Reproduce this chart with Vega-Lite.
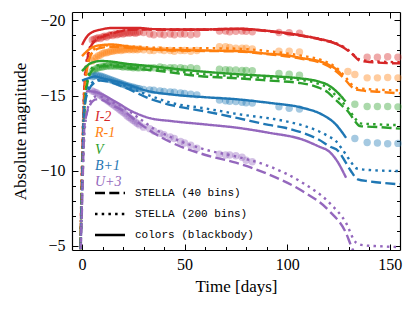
{
"$schema":"https://vega.github.io/schema/vega-lite/v6.json",
"width":328,"height":238,
"autosize":{"type":"none"},
"padding":{"left":72,"top":12,"right":15,"bottom":60},
"config":{"view":{"stroke":null},"axis":{"grid":false,"labelFont":"Liberation Serif","labelFontSize":16,"labelColor":"black","titleFont":"Liberation Serif","titleFontSize":17,"titleFontWeight":"normal","titleColor":"black","tickColor":"black","tickWidth":1,"domainColor":"black","domainWidth":1.2}},
"datasets":{
"obs":[
{"b":"I-2","t":5,"y":-18.7},{"b":"I-2","t":6,"y":-18.75},{"b":"I-2","t":7,"y":-18.8},{"b":"I-2","t":8,"y":-18.85},{"b":"I-2","t":9,"y":-18.8},{"b":"I-2","t":10,"y":-18.9},{"b":"I-2","t":11,"y":-18.95},{"b":"I-2","t":12,"y":-18.9},{"b":"I-2","t":13,"y":-19.0},{"b":"I-2","t":14,"y":-19.05},{"b":"I-2","t":15,"y":-19.0},{"b":"I-2","t":16,"y":-19.1},{"b":"I-2","t":17,"y":-19.05},{"b":"I-2","t":18,"y":-19.1},{"b":"I-2","t":19,"y":-19.15},{"b":"I-2","t":20,"y":-19.1},{"b":"I-2","t":21,"y":-19.15},{"b":"I-2","t":22,"y":-19.2},{"b":"I-2","t":23,"y":-19.15},{"b":"I-2","t":24,"y":-19.2},{"b":"I-2","t":25,"y":-19.2},{"b":"I-2","t":26,"y":-19.15},{"b":"I-2","t":27,"y":-19.2},{"b":"I-2","t":28,"y":-19.25},{"b":"I-2","t":30,"y":-19.2},{"b":"I-2","t":33,"y":-19.1},{"b":"I-2","t":35,"y":-19.05},{"b":"I-2","t":38,"y":-19.1},{"b":"I-2","t":40,"y":-19.05},{"b":"I-2","t":43,"y":-19.1},{"b":"I-2","t":45,"y":-19.05},{"b":"I-2","t":48,"y":-19.1},{"b":"I-2","t":50,"y":-19.1},{"b":"I-2","t":53,"y":-19.05},{"b":"I-2","t":56,"y":-19.1},{"b":"I-2","t":67,"y":-19.3},{"b":"I-2","t":70,"y":-19.3},{"b":"I-2","t":72,"y":-19.25},{"b":"I-2","t":75,"y":-19.28},{"b":"I-2","t":78,"y":-19.3},{"b":"I-2","t":80,"y":-19.28},{"b":"I-2","t":83,"y":-19.25},{"b":"I-2","t":96,"y":-19.2},{"b":"I-2","t":101,"y":-19.18},{"b":"I-2","t":106,"y":-19.15},{"b":"I-2","t":139,"y":-17.55},{"b":"I-2","t":144,"y":-17.55},{"b":"I-2","t":149,"y":-17.58},{"b":"I-2","t":154,"y":-17.55},
{"b":"R-1","t":5,"y":-17.3},{"b":"R-1","t":6,"y":-17.45},{"b":"R-1","t":7,"y":-17.55},{"b":"R-1","t":8,"y":-17.65},{"b":"R-1","t":9,"y":-17.7},{"b":"R-1","t":10,"y":-17.8},{"b":"R-1","t":11,"y":-17.85},{"b":"R-1","t":12,"y":-17.85},{"b":"R-1","t":13,"y":-17.9},{"b":"R-1","t":14,"y":-17.95},{"b":"R-1","t":15,"y":-17.95},{"b":"R-1","t":16,"y":-18.0},{"b":"R-1","t":17,"y":-18.0},{"b":"R-1","t":18,"y":-18.05},{"b":"R-1","t":19,"y":-18.0},{"b":"R-1","t":20,"y":-18.05},{"b":"R-1","t":21,"y":-18.05},{"b":"R-1","t":22,"y":-18.1},{"b":"R-1","t":23,"y":-18.05},{"b":"R-1","t":24,"y":-18.1},{"b":"R-1","t":25,"y":-18.05},{"b":"R-1","t":26,"y":-18.1},{"b":"R-1","t":27,"y":-18.05},{"b":"R-1","t":28,"y":-18.1},{"b":"R-1","t":30,"y":-18.05},{"b":"R-1","t":33,"y":-18.0},{"b":"R-1","t":35,"y":-18.0},{"b":"R-1","t":38,"y":-18.05},{"b":"R-1","t":40,"y":-18.0},{"b":"R-1","t":43,"y":-18.0},{"b":"R-1","t":45,"y":-17.95},{"b":"R-1","t":48,"y":-18.0},{"b":"R-1","t":50,"y":-18.0},{"b":"R-1","t":53,"y":-17.95},{"b":"R-1","t":56,"y":-18.0},{"b":"R-1","t":67,"y":-18.25},{"b":"R-1","t":70,"y":-18.25},{"b":"R-1","t":72,"y":-18.2},{"b":"R-1","t":75,"y":-18.15},{"b":"R-1","t":78,"y":-18.15},{"b":"R-1","t":80,"y":-18.15},{"b":"R-1","t":83,"y":-18.1},{"b":"R-1","t":96,"y":-17.95},{"b":"R-1","t":101,"y":-17.95},{"b":"R-1","t":106,"y":-17.9},{"b":"R-1","t":129.6,"y":-16.6},{"b":"R-1","t":133,"y":-16.4},{"b":"R-1","t":139,"y":-16.18},{"b":"R-1","t":144,"y":-16.18},{"b":"R-1","t":149,"y":-16.2},{"b":"R-1","t":154,"y":-16.18},
{"b":"V","t":5,"y":-16.6},{"b":"V","t":6,"y":-16.7},{"b":"V","t":7,"y":-16.8},{"b":"V","t":8,"y":-16.85},{"b":"V","t":9,"y":-16.9},{"b":"V","t":10,"y":-16.9},{"b":"V","t":11,"y":-16.95},{"b":"V","t":12,"y":-16.95},{"b":"V","t":13,"y":-17.0},{"b":"V","t":14,"y":-16.95},{"b":"V","t":15,"y":-17.0},{"b":"V","t":16,"y":-16.95},{"b":"V","t":17,"y":-17.0},{"b":"V","t":18,"y":-16.95},{"b":"V","t":19,"y":-16.95},{"b":"V","t":20,"y":-16.9},{"b":"V","t":21,"y":-16.95},{"b":"V","t":22,"y":-16.9},{"b":"V","t":23,"y":-16.9},{"b":"V","t":24,"y":-16.9},{"b":"V","t":25,"y":-16.85},{"b":"V","t":26,"y":-16.9},{"b":"V","t":27,"y":-16.85},{"b":"V","t":28,"y":-16.85},{"b":"V","t":30,"y":-16.85},{"b":"V","t":33,"y":-16.85},{"b":"V","t":35,"y":-16.85},{"b":"V","t":38,"y":-16.9},{"b":"V","t":40,"y":-16.85},{"b":"V","t":43,"y":-16.85},{"b":"V","t":45,"y":-16.85},{"b":"V","t":48,"y":-16.85},{"b":"V","t":50,"y":-16.8},{"b":"V","t":53,"y":-16.85},{"b":"V","t":56,"y":-16.8},{"b":"V","t":67,"y":-16.75},{"b":"V","t":70,"y":-16.72},{"b":"V","t":72,"y":-16.7},{"b":"V","t":75,"y":-16.7},{"b":"V","t":78,"y":-16.68},{"b":"V","t":80,"y":-16.68},{"b":"V","t":83,"y":-16.65},{"b":"V","t":96,"y":-16.48},{"b":"V","t":101,"y":-16.42},{"b":"V","t":106,"y":-16.36},{"b":"V","t":133,"y":-14.42},{"b":"V","t":139,"y":-14.28},{"b":"V","t":144,"y":-14.27},{"b":"V","t":149,"y":-14.27},{"b":"V","t":154,"y":-14.25},
{"b":"B+1","t":5,"y":-16.25},{"b":"B+1","t":6,"y":-16.3},{"b":"B+1","t":7,"y":-16.35},{"b":"B+1","t":8,"y":-16.3},{"b":"B+1","t":9,"y":-16.3},{"b":"B+1","t":10,"y":-16.25},{"b":"B+1","t":11,"y":-16.2},{"b":"B+1","t":12,"y":-16.15},{"b":"B+1","t":13,"y":-16.1},{"b":"B+1","t":14,"y":-16.05},{"b":"B+1","t":15,"y":-16.0},{"b":"B+1","t":16,"y":-15.95},{"b":"B+1","t":17,"y":-15.9},{"b":"B+1","t":18,"y":-15.85},{"b":"B+1","t":19,"y":-15.8},{"b":"B+1","t":20,"y":-15.75},{"b":"B+1","t":21,"y":-15.7},{"b":"B+1","t":22,"y":-15.65},{"b":"B+1","t":23,"y":-15.62},{"b":"B+1","t":24,"y":-15.58},{"b":"B+1","t":25,"y":-15.55},{"b":"B+1","t":26,"y":-15.5},{"b":"B+1","t":27,"y":-15.48},{"b":"B+1","t":28,"y":-15.45},{"b":"B+1","t":30,"y":-15.4},{"b":"B+1","t":33,"y":-15.38},{"b":"B+1","t":35,"y":-15.35},{"b":"B+1","t":38,"y":-15.3},{"b":"B+1","t":40,"y":-15.28},{"b":"B+1","t":43,"y":-15.25},{"b":"B+1","t":45,"y":-15.22},{"b":"B+1","t":48,"y":-15.18},{"b":"B+1","t":50,"y":-15.15},{"b":"B+1","t":53,"y":-15.1},{"b":"B+1","t":56,"y":-15.05},{"b":"B+1","t":67,"y":-14.7},{"b":"B+1","t":70,"y":-14.65},{"b":"B+1","t":72,"y":-14.62},{"b":"B+1","t":75,"y":-14.6},{"b":"B+1","t":78,"y":-14.55},{"b":"B+1","t":80,"y":-14.52},{"b":"B+1","t":83,"y":-14.5},{"b":"B+1","t":96,"y":-14.25},{"b":"B+1","t":101,"y":-14.15},{"b":"B+1","t":106,"y":-14.1},{"b":"B+1","t":133,"y":-12.15},{"b":"B+1","t":139,"y":-11.88},{"b":"B+1","t":144,"y":-11.85},{"b":"B+1","t":149,"y":-11.8},{"b":"B+1","t":154,"y":-11.82},
{"b":"U+3","t":5,"y":-15.3},{"b":"U+3","t":6,"y":-15.25},{"b":"U+3","t":7,"y":-15.2},{"b":"U+3","t":8,"y":-15.1},{"b":"U+3","t":9,"y":-15.0},{"b":"U+3","t":10,"y":-14.9},{"b":"U+3","t":11,"y":-14.8},{"b":"U+3","t":12,"y":-14.7},{"b":"U+3","t":13,"y":-14.6},{"b":"U+3","t":14,"y":-14.5},{"b":"U+3","t":15,"y":-14.4},{"b":"U+3","t":16,"y":-14.3},{"b":"U+3","t":17,"y":-14.2},{"b":"U+3","t":18,"y":-14.1},{"b":"U+3","t":19,"y":-14.0},{"b":"U+3","t":20,"y":-13.9},{"b":"U+3","t":21,"y":-13.8},{"b":"U+3","t":22,"y":-13.65},{"b":"U+3","t":23,"y":-13.55},{"b":"U+3","t":24,"y":-13.45},{"b":"U+3","t":25,"y":-13.35},{"b":"U+3","t":26,"y":-13.25},{"b":"U+3","t":27,"y":-13.15},{"b":"U+3","t":28,"y":-13.05},{"b":"U+3","t":30,"y":-12.9},{"b":"U+3","t":33,"y":-12.8},{"b":"U+3","t":35,"y":-12.65},{"b":"U+3","t":38,"y":-12.5},{"b":"U+3","t":40,"y":-12.4},{"b":"U+3","t":43,"y":-12.25},{"b":"U+3","t":45,"y":-12.15},{"b":"U+3","t":48,"y":-11.95},{"b":"U+3","t":50,"y":-11.85},{"b":"U+3","t":53,"y":-11.7},{"b":"U+3","t":56,"y":-11.5},{"b":"U+3","t":67,"y":-11.1},{"b":"U+3","t":70,"y":-11.05},{"b":"U+3","t":72,"y":-11.05},{"b":"U+3","t":75,"y":-11.0},{"b":"U+3","t":78,"y":-10.9},{"b":"U+3","t":80,"y":-10.7},{"b":"U+3","t":83,"y":-10.6}
],
"mod":[
{"b":"I-2","m":"s","t":0,"y":-18.36},{"b":"I-2","m":"s","t":2,"y":-18.85},{"b":"I-2","m":"s","t":4.5,"y":-19.18},{"b":"I-2","m":"s","t":9.5,"y":-19.4},{"b":"I-2","m":"s","t":14.5,"y":-19.5},{"b":"I-2","m":"s","t":27,"y":-19.5},{"b":"I-2","m":"s","t":35,"y":-19.42},{"b":"I-2","m":"s","t":45,"y":-19.4},{"b":"I-2","m":"s","t":60,"y":-19.4},{"b":"I-2","m":"s","t":76,"y":-19.45},{"b":"I-2","m":"s","t":91,"y":-19.3},{"b":"I-2","m":"s","t":100,"y":-19.15},{"b":"I-2","m":"s","t":107,"y":-19.0},{"b":"I-2","m":"s","t":117,"y":-18.73},{"b":"I-2","m":"s","t":122,"y":-18.55},{"b":"I-2","m":"s","t":126,"y":-18.3},
{"b":"I-2","m":"d","t":-1,"y":-3},{"b":"I-2","m":"d","t":0,"y":-10},{"b":"I-2","m":"d","t":1.4,"y":-16.07},{"b":"I-2","m":"d","t":3.8,"y":-18.07},{"b":"I-2","m":"d","t":6.3,"y":-18.63},{"b":"I-2","m":"d","t":11,"y":-18.96},{"b":"I-2","m":"d","t":16,"y":-19.18},{"b":"I-2","m":"d","t":27,"y":-19.4},{"b":"I-2","m":"d","t":45,"y":-19.38},{"b":"I-2","m":"d","t":60,"y":-19.38},{"b":"I-2","m":"d","t":76,"y":-19.42},{"b":"I-2","m":"d","t":91,"y":-19.27},{"b":"I-2","m":"d","t":107,"y":-18.97},{"b":"I-2","m":"d","t":117,"y":-18.7},{"b":"I-2","m":"d","t":125,"y":-18.38},{"b":"I-2","m":"d","t":128,"y":-18.15},{"b":"I-2","m":"d","t":130,"y":-17.96},{"b":"I-2","m":"d","t":133,"y":-17.6},{"b":"I-2","m":"d","t":135,"y":-17.35},{"b":"I-2","m":"d","t":140,"y":-17.23},{"b":"I-2","m":"d","t":155,"y":-17.14},
{"b":"I-2","m":"o","t":-1,"y":-3},{"b":"I-2","m":"o","t":0,"y":-10.5},{"b":"I-2","m":"o","t":1.4,"y":-16.3},{"b":"I-2","m":"o","t":3.8,"y":-18.2},{"b":"I-2","m":"o","t":6.3,"y":-18.7},{"b":"I-2","m":"o","t":11,"y":-19.02},{"b":"I-2","m":"o","t":16,"y":-19.22},{"b":"I-2","m":"o","t":27,"y":-19.42},{"b":"I-2","m":"o","t":45,"y":-19.4},{"b":"I-2","m":"o","t":60,"y":-19.4},{"b":"I-2","m":"o","t":76,"y":-19.43},{"b":"I-2","m":"o","t":91,"y":-19.3},{"b":"I-2","m":"o","t":107,"y":-19.0},{"b":"I-2","m":"o","t":117,"y":-18.74},{"b":"I-2","m":"o","t":125,"y":-18.42},{"b":"I-2","m":"o","t":128,"y":-18.2},{"b":"I-2","m":"o","t":130,"y":-18.0},{"b":"I-2","m":"o","t":133,"y":-17.65},{"b":"I-2","m":"o","t":135,"y":-17.42},{"b":"I-2","m":"o","t":140,"y":-17.3},{"b":"I-2","m":"o","t":155,"y":-17.22},
{"b":"R-1","m":"s","t":0,"y":-17.63},{"b":"R-1","m":"s","t":4.7,"y":-18.18},{"b":"R-1","m":"s","t":9.5,"y":-18.36},{"b":"R-1","m":"s","t":14.5,"y":-18.4},{"b":"R-1","m":"s","t":20,"y":-18.32},{"b":"R-1","m":"s","t":27,"y":-18.18},{"b":"R-1","m":"s","t":44,"y":-18.03},{"b":"R-1","m":"s","t":60,"y":-18.0},{"b":"R-1","m":"s","t":76,"y":-17.96},{"b":"R-1","m":"s","t":91,"y":-17.78},{"b":"R-1","m":"s","t":100,"y":-17.68},{"b":"R-1","m":"s","t":107,"y":-17.5},{"b":"R-1","m":"s","t":117,"y":-17.23},{"b":"R-1","m":"s","t":121,"y":-17.0},{"b":"R-1","m":"s","t":124,"y":-16.74},{"b":"R-1","m":"s","t":127,"y":-16.3},
{"b":"R-1","m":"d","t":-1,"y":-3},{"b":"R-1","m":"d","t":0,"y":-9},{"b":"R-1","m":"d","t":1.5,"y":-15.5},{"b":"R-1","m":"d","t":3.5,"y":-17.4},{"b":"R-1","m":"d","t":6,"y":-18.0},{"b":"R-1","m":"d","t":10,"y":-18.2},{"b":"R-1","m":"d","t":15,"y":-18.25},{"b":"R-1","m":"d","t":27,"y":-18.12},{"b":"R-1","m":"d","t":44,"y":-18.0},{"b":"R-1","m":"d","t":60,"y":-17.97},{"b":"R-1","m":"d","t":76,"y":-17.93},{"b":"R-1","m":"d","t":91,"y":-17.75},{"b":"R-1","m":"d","t":107,"y":-17.45},{"b":"R-1","m":"d","t":117,"y":-17.15},{"b":"R-1","m":"d","t":124,"y":-16.6},{"b":"R-1","m":"d","t":128,"y":-16.1},{"b":"R-1","m":"d","t":130.3,"y":-15.74},{"b":"R-1","m":"d","t":132.7,"y":-15.45},{"b":"R-1","m":"d","t":136,"y":-15.35},{"b":"R-1","m":"d","t":145,"y":-15.25},{"b":"R-1","m":"d","t":155,"y":-15.15},
{"b":"R-1","m":"o","t":-1,"y":-3},{"b":"R-1","m":"o","t":0,"y":-9.5},{"b":"R-1","m":"o","t":1.5,"y":-15.8},{"b":"R-1","m":"o","t":3.5,"y":-17.6},{"b":"R-1","m":"o","t":6,"y":-18.1},{"b":"R-1","m":"o","t":10,"y":-18.3},{"b":"R-1","m":"o","t":15,"y":-18.35},{"b":"R-1","m":"o","t":27,"y":-18.25},{"b":"R-1","m":"o","t":44,"y":-18.15},{"b":"R-1","m":"o","t":60,"y":-18.15},{"b":"R-1","m":"o","t":76,"y":-18.12},{"b":"R-1","m":"o","t":91,"y":-17.95},{"b":"R-1","m":"o","t":107,"y":-17.65},{"b":"R-1","m":"o","t":117,"y":-17.35},{"b":"R-1","m":"o","t":124,"y":-16.85},{"b":"R-1","m":"o","t":128,"y":-16.3},{"b":"R-1","m":"o","t":131,"y":-15.8},{"b":"R-1","m":"o","t":134,"y":-15.5},{"b":"R-1","m":"o","t":140,"y":-15.42},{"b":"R-1","m":"o","t":155,"y":-15.35},
{"b":"V","m":"s","t":0,"y":-16.63},{"b":"V","m":"s","t":4.7,"y":-17.18},{"b":"V","m":"s","t":9.5,"y":-17.3},{"b":"V","m":"s","t":15,"y":-17.25},{"b":"V","m":"s","t":20,"y":-17.15},{"b":"V","m":"s","t":36,"y":-16.92},{"b":"V","m":"s","t":57,"y":-16.62},{"b":"V","m":"s","t":76,"y":-16.42},{"b":"V","m":"s","t":91,"y":-16.3},{"b":"V","m":"s","t":106,"y":-16.15},{"b":"V","m":"s","t":115,"y":-15.95},{"b":"V","m":"s","t":120,"y":-15.7},{"b":"V","m":"s","t":123,"y":-15.4},{"b":"V","m":"s","t":126,"y":-15.0},{"b":"V","m":"s","t":128.5,"y":-14.6},
{"b":"V","m":"d","t":-1,"y":-3},{"b":"V","m":"d","t":0,"y":-9},{"b":"V","m":"d","t":1.5,"y":-14.5},{"b":"V","m":"d","t":3.5,"y":-16.3},{"b":"V","m":"d","t":6,"y":-16.8},{"b":"V","m":"d","t":10,"y":-16.95},{"b":"V","m":"d","t":15,"y":-16.95},{"b":"V","m":"d","t":25,"y":-16.8},{"b":"V","m":"d","t":40,"y":-16.6},{"b":"V","m":"d","t":57,"y":-16.3},{"b":"V","m":"d","t":76,"y":-16.15},{"b":"V","m":"d","t":91,"y":-16.0},{"b":"V","m":"d","t":106,"y":-15.84},{"b":"V","m":"d","t":115,"y":-15.55},{"b":"V","m":"d","t":120,"y":-15.2},{"b":"V","m":"d","t":123,"y":-14.8},{"b":"V","m":"d","t":127,"y":-14.3},{"b":"V","m":"d","t":130,"y":-13.9},{"b":"V","m":"d","t":132.5,"y":-13.4},{"b":"V","m":"d","t":135.5,"y":-12.97},{"b":"V","m":"d","t":145,"y":-12.9},{"b":"V","m":"d","t":155,"y":-12.8},
{"b":"V","m":"o","t":-1,"y":-3},{"b":"V","m":"o","t":0,"y":-9.3},{"b":"V","m":"o","t":1.5,"y":-14.8},{"b":"V","m":"o","t":3.5,"y":-16.5},{"b":"V","m":"o","t":6,"y":-16.95},{"b":"V","m":"o","t":10,"y":-17.05},{"b":"V","m":"o","t":15,"y":-17.05},{"b":"V","m":"o","t":25,"y":-16.92},{"b":"V","m":"o","t":40,"y":-16.72},{"b":"V","m":"o","t":57,"y":-16.45},{"b":"V","m":"o","t":76,"y":-16.28},{"b":"V","m":"o","t":91,"y":-16.17},{"b":"V","m":"o","t":106,"y":-16.05},{"b":"V","m":"o","t":115,"y":-15.8},{"b":"V","m":"o","t":120,"y":-15.5},{"b":"V","m":"o","t":123,"y":-15.1},{"b":"V","m":"o","t":127,"y":-14.55},{"b":"V","m":"o","t":130,"y":-14.1},{"b":"V","m":"o","t":132.5,"y":-13.6},{"b":"V","m":"o","t":135.5,"y":-13.15},{"b":"V","m":"o","t":145,"y":-13.08},{"b":"V","m":"o","t":155,"y":-13.03},
{"b":"B+1","m":"s","t":0,"y":-16.0},{"b":"B+1","m":"s","t":3,"y":-16.15},{"b":"B+1","m":"s","t":6.3,"y":-16.27},{"b":"B+1","m":"s","t":10,"y":-16.15},{"b":"B+1","m":"s","t":19.4,"y":-15.85},{"b":"B+1","m":"s","t":32.5,"y":-15.29},{"b":"B+1","m":"s","t":43.9,"y":-15.07},{"b":"B+1","m":"s","t":60.2,"y":-14.89},{"b":"B+1","m":"s","t":75.7,"y":-14.75},{"b":"B+1","m":"s","t":91,"y":-14.52},{"b":"B+1","m":"s","t":107.4,"y":-14.19},{"b":"B+1","m":"s","t":117,"y":-13.74},{"b":"B+1","m":"s","t":123.8,"y":-13.07},{"b":"B+1","m":"s","t":128.7,"y":-12.19},
{"b":"B+1","m":"d","t":-1,"y":-3},{"b":"B+1","m":"d","t":0,"y":-8.5},{"b":"B+1","m":"d","t":1,"y":-14.0},{"b":"B+1","m":"d","t":3,"y":-15.3},{"b":"B+1","m":"d","t":6,"y":-15.85},{"b":"B+1","m":"d","t":9,"y":-16.0},{"b":"B+1","m":"d","t":12,"y":-15.95},{"b":"B+1","m":"d","t":20,"y":-15.6},{"b":"B+1","m":"d","t":32,"y":-14.85},{"b":"B+1","m":"d","t":44,"y":-14.35},{"b":"B+1","m":"d","t":60,"y":-13.95},{"b":"B+1","m":"d","t":76,"y":-13.5},{"b":"B+1","m":"d","t":91,"y":-13.05},{"b":"B+1","m":"d","t":99,"y":-12.86},{"b":"B+1","m":"d","t":108,"y":-12.5},{"b":"B+1","m":"d","t":115,"y":-12.1},{"b":"B+1","m":"d","t":121,"y":-11.6},{"b":"B+1","m":"d","t":125,"y":-11.3},{"b":"B+1","m":"d","t":128.6,"y":-10.54},{"b":"B+1","m":"d","t":131,"y":-10.0},{"b":"B+1","m":"d","t":134.4,"y":-9.43},{"b":"B+1","m":"d","t":140,"y":-9.3},{"b":"B+1","m":"d","t":155,"y":-9.1},
{"b":"B+1","m":"o","t":-1,"y":-3},{"b":"B+1","m":"o","t":0,"y":-8.8},{"b":"B+1","m":"o","t":1,"y":-14.3},{"b":"B+1","m":"o","t":3,"y":-15.5},{"b":"B+1","m":"o","t":6,"y":-15.95},{"b":"B+1","m":"o","t":9,"y":-16.05},{"b":"B+1","m":"o","t":12,"y":-16.0},{"b":"B+1","m":"o","t":20,"y":-15.7},{"b":"B+1","m":"o","t":32,"y":-15.05},{"b":"B+1","m":"o","t":44,"y":-14.5},{"b":"B+1","m":"o","t":60,"y":-14.15},{"b":"B+1","m":"o","t":75,"y":-13.79},{"b":"B+1","m":"o","t":99,"y":-13.3},{"b":"B+1","m":"o","t":108,"y":-13.0},{"b":"B+1","m":"o","t":115.4,"y":-12.63},{"b":"B+1","m":"o","t":120,"y":-12.3},{"b":"B+1","m":"o","t":123.8,"y":-11.97},{"b":"B+1","m":"o","t":126.5,"y":-11.5},{"b":"B+1","m":"o","t":128.6,"y":-11.09},{"b":"B+1","m":"o","t":131,"y":-10.6},{"b":"B+1","m":"o","t":134,"y":-10.15},{"b":"B+1","m":"o","t":140,"y":-10.05},{"b":"B+1","m":"o","t":155,"y":-9.98},
{"b":"U+3","m":"s","t":2,"y":-15.25},{"b":"U+3","m":"s","t":3,"y":-15.29},{"b":"U+3","m":"s","t":8,"y":-15.18},{"b":"U+3","m":"s","t":16,"y":-14.62},{"b":"U+3","m":"s","t":24.3,"y":-13.96},{"b":"U+3","m":"s","t":32.5,"y":-13.52},{"b":"U+3","m":"s","t":43.9,"y":-13.3},{"b":"U+3","m":"s","t":60.2,"y":-13.08},{"b":"U+3","m":"s","t":75.7,"y":-12.86},{"b":"U+3","m":"s","t":91,"y":-12.53},{"b":"U+3","m":"s","t":107.4,"y":-12.08},{"b":"U+3","m":"s","t":117,"y":-11.53},{"b":"U+3","m":"s","t":119,"y":-11.42},{"b":"U+3","m":"s","t":123.8,"y":-10.76},{"b":"U+3","m":"s","t":128.7,"y":-9.54},
{"b":"U+3","m":"o","t":-1,"y":-3},{"b":"U+3","m":"o","t":0,"y":-8},{"b":"U+3","m":"o","t":1.5,"y":-13.0},{"b":"U+3","m":"o","t":4,"y":-14.6},{"b":"U+3","m":"o","t":7,"y":-14.95},{"b":"U+3","m":"o","t":10,"y":-14.9},{"b":"U+3","m":"o","t":14,"y":-14.6},{"b":"U+3","m":"o","t":19.4,"y":-14.29},{"b":"U+3","m":"o","t":27.5,"y":-13.52},{"b":"U+3","m":"o","t":35.7,"y":-12.75},{"b":"U+3","m":"o","t":43.9,"y":-12.2},{"b":"U+3","m":"o","t":60.2,"y":-11.4},{"b":"U+3","m":"o","t":75,"y":-10.95},{"b":"U+3","m":"o","t":91,"y":-10.31},{"b":"U+3","m":"o","t":107.4,"y":-9.21},{"b":"U+3","m":"o","t":120.5,"y":-7.88},{"b":"U+3","m":"o","t":128.6,"y":-6.56},{"b":"U+3","m":"o","t":133.5,"y":-5.23},{"b":"U+3","m":"o","t":137,"y":-5.05},{"b":"U+3","m":"o","t":145,"y":-4.98},{"b":"U+3","m":"o","t":155,"y":-4.92},
{"b":"U+3","m":"d","t":-1,"y":-3},{"b":"U+3","m":"d","t":0,"y":-7.5},{"b":"U+3","m":"d","t":1.2,"y":-13.0},{"b":"U+3","m":"d","t":4,"y":-14.4},{"b":"U+3","m":"d","t":7,"y":-14.75},{"b":"U+3","m":"d","t":10,"y":-14.7},{"b":"U+3","m":"d","t":14,"y":-14.4},{"b":"U+3","m":"d","t":20,"y":-14.0},{"b":"U+3","m":"d","t":27.5,"y":-13.2},{"b":"U+3","m":"d","t":35.7,"y":-12.45},{"b":"U+3","m":"d","t":43.9,"y":-11.86},{"b":"U+3","m":"d","t":60.2,"y":-11.05},{"b":"U+3","m":"d","t":75,"y":-10.54},{"b":"U+3","m":"d","t":91,"y":-9.76},{"b":"U+3","m":"d","t":107.4,"y":-8.65},{"b":"U+3","m":"d","t":120.5,"y":-7.33},{"b":"U+3","m":"d","t":128.6,"y":-5.89},{"b":"U+3","m":"d","t":131.9,"y":-4.78},{"b":"U+3","m":"d","t":134,"y":-4.3},{"b":"U+3","m":"d","t":155,"y":-4.2}
]},
"resolve":{"axis":{"x":"independent","y":"independent"}},
"layer":[
{"data":{"name":"obs"},
 "mark":{"type":"circle","size":55,"opacity":0.4},
 "encoding":{
  "x":{"field":"t","type":"quantitative","scale":{"domain":[-4.87,155],"nice":false,"zero":false},"axis":{"orient":"bottom","values":[0,50,100,150],"ticks":false,"domain":true,"labelPadding":6,"title":"Time [days]","titlePadding":6}},
  "y":{"field":"y","type":"quantitative","scale":{"domain":[-20.56,-4.73],"reverse":true,"nice":false,"zero":false},"axis":{"orient":"left","values":[-20,-15,-10,-5],"ticks":false,"domain":true,"labelPadding":7,"title":"Absolute magnitude","titlePadding":10}},
  "color":{"field":"b","type":"nominal","scale":{"domain":["I-2","R-1","V","B+1","U+3"],"range":["#d62728","#ff7f0e","#2ca02c","#1f77b4","#9467bd"]},
   "legend":{"orient":"none","legendX":9,"legendY":98,"title":null,"padding":0,"symbolOpacity":0,"symbolSize":0,"symbolStrokeWidth":0,"labelOffset":0,"labelFont":"Liberation Serif","labelFontStyle":"italic","labelFontSize":14,"rowPadding":2.3,"encode":{"labels":{"update":{"fill":{"scale":"color","field":"value"}}}}}}
 }},
{"data":{"name":"mod"},"transform":[{"filter":"datum.m == 'd'"}],
 "mark":{"type":"line","strokeWidth":2.4,"clip":true,"interpolate":"monotone"},
 "encoding":{
  "x":{"field":"t","type":"quantitative","axis":{"orient":"bottom","values":[0,50,100,150],"labels":false,"domain":false,"tickSize":-6,"title":null}},
  "y":{"field":"y","type":"quantitative","axis":{"orient":"left","values":[-20,-15,-10,-5],"labels":false,"domain":false,"tickSize":-6,"title":null}},
  "color":{"field":"b","type":"nominal"},
  "strokeDash":{"field":"m","type":"nominal","scale":{"domain":["d","o","s"],"range":[[10,4.3],[2.5,4.2],[1,0]]},
   "legend":{"orient":"none","legendX":32.5,"legendY":175.5,"title":null,"padding":0,"symbolType":"M-5,0H5","symbolSize":36,"symbolStrokeWidth":2.4,"symbolStrokeColor":"black","labelOffset":19.5,"labelFont":"Liberation Mono","labelFontSize":11,"labelColor":"black","rowPadding":9,"labelExpr":"datum.label == 'd' ? 'STELLA (40 bins)' : datum.label == 'o' ? 'STELLA (200 bins)' : 'colors (blackbody)'"}}
 }},
{"data":{"name":"mod"},"transform":[{"filter":"datum.m == 'o'"}],
 "mark":{"type":"line","strokeWidth":2.4,"clip":true,"interpolate":"monotone"},
 "encoding":{
  "x":{"field":"t","type":"quantitative","axis":{"orient":"bottom","values":[10,20,30,40,60,70,80,90,110,120,130,140],"labels":false,"domain":false,"tickSize":-3.5,"title":null}},
  "y":{"field":"y","type":"quantitative","axis":{"orient":"left","values":[-19,-18,-17,-16,-14,-13,-12,-11,-9,-8,-7,-6],"labels":false,"domain":false,"tickSize":-3.5,"title":null}},
  "color":{"field":"b","type":"nominal"},
  "strokeDash":{"field":"m","type":"nominal"}
 }},
{"data":{"name":"mod"},"transform":[{"filter":"datum.m == 's'"}],
 "mark":{"type":"line","strokeWidth":2.4,"clip":true,"interpolate":"monotone"},
 "encoding":{
  "x":{"field":"t","type":"quantitative","axis":{"orient":"top","values":[0,50,100,150],"labels":false,"domain":true,"tickSize":-6,"title":null}},
  "y":{"field":"y","type":"quantitative","axis":{"orient":"right","values":[-20,-15,-10,-5],"labels":false,"domain":true,"tickSize":-6,"title":null}},
  "color":{"field":"b","type":"nominal"},
  "strokeDash":{"field":"m","type":"nominal"}
 }},
{"data":{"name":"obs"},
 "mark":{"type":"point","opacity":0},
 "encoding":{
  "x":{"field":"t","type":"quantitative","axis":{"orient":"top","values":[10,20,30,40,60,70,80,90,110,120,130,140],"labels":false,"domain":false,"tickSize":-3.5,"title":null}},
  "y":{"field":"y","type":"quantitative","axis":{"orient":"right","values":[-19,-18,-17,-16,-14,-13,-12,-11,-9,-8,-7,-6],"labels":false,"domain":false,"tickSize":-3.5,"title":null}}
 }}
]
}
